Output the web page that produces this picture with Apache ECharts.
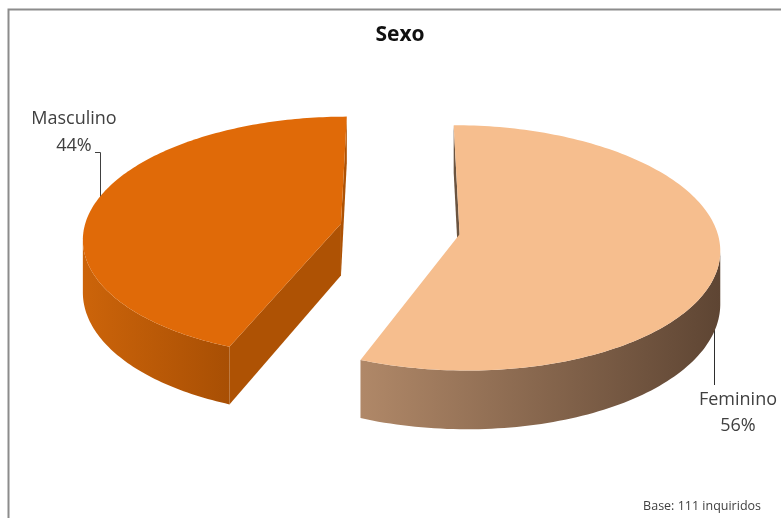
<!DOCTYPE html>
<html>
<head>
<meta charset="utf-8">
<script src="https://cdn.jsdelivr.net/npm/echarts@6/dist/echarts.min.js"></script>
<style>
  html, body { margin: 0; padding: 0; background: #fff; }
  #main { width: 781px; height: 518px; }
</style>
</head>
<body>
<div id="main"></div>
<script>
// Survey breakdown by sex
const categories = ['Feminino', 'Masculino'];
const shares = [56, 44];
const baseCount = 111;

// Slice styling (top face, cut faces, outer wall gradient left->right)
const topColors = ['#F6BE8E', '#E06A08'];
const cutColors = ['#6B5440', '#AE5204'];
const wallColors = [['#B08868', '#5E4533'], ['#CC640A', '#A84F04']];

// Perspective disc: centre, radii, perspective strength, thickness, explode distance
const view = { cx: 400, cy: 229, rx: 257, ry: 120, persp: 0.11, depth: 52, explode: 0.235 };

function proj(u, w, t) {
  const s = 1 / (1 + view.persp * w);
  return [view.cx + view.rx * u * s, view.cy - view.ry * w * s + view.depth * t * s];
}

function signedArea(pts) {
  let a = 0;
  for (let i = 0; i < pts.length; i++) {
    const p = pts[i], q = pts[(i + 1) % pts.length];
    a += p[0] * q[1] - q[0] * p[1];
  }
  return a;
}

const total = shares.reduce((a, b) => a + b, 0);

function renderSlice(params, api) {
  const i = params.dataIndex;
  let before = 0;
  for (let k = 0; k < i; k++) before += shares[k];
  const a0 = before / total * Math.PI * 2;
  const a1 = (before + api.value(0)) / total * Math.PI * 2;
  const mid = (a0 + a1) / 2;
  const ou = view.explode * Math.sin(mid);
  const ow = view.explode * Math.cos(mid);
  const rim = (a, t) => proj(ou + Math.sin(a), ow + Math.cos(a), t);
  const apex = t => proj(ou, ow, t);

  const children = [];
  // radial cut faces (only those turned toward the viewer)
  const f0 = [apex(0), rim(a0, 0), rim(a0, 1), apex(1)];
  const f1 = [rim(a1, 0), apex(0), apex(1), rim(a1, 1)];
  [f0, f1].forEach(f => {
    if (signedArea(f) < 0) {
      children.push({ type: 'polygon', shape: { points: f }, style: { fill: cutColors[i] } });
    }
  });

  // outer curved wall: visible where the rim runs right-to-left
  const N = 160;
  const angs = [];
  for (let k = 0; k <= N; k++) angs.push(a0 + (a1 - a0) * k / N);
  let run = [];
  const flush = () => {
    if (run.length > 1) {
      const topPts = run.map(a => rim(a, 0));
      const botPts = run.map(a => rim(a, 1)).reverse();
      children.push({
        type: 'polygon',
        shape: { points: topPts.concat(botPts) },
        style: { fill: new echarts.graphic.LinearGradient(0, 0, 1, 0, [
          { offset: 0, color: wallColors[i][0] },
          { offset: 1, color: wallColors[i][1] }
        ]) }
      });
    }
    run = [];
  };
  for (let k = 0; k < N; k++) {
    const p = rim(angs[k], 0), q = rim(angs[k + 1], 0);
    if (q[0] < p[0]) {
      if (!run.length) run.push(angs[k]);
      run.push(angs[k + 1]);
    } else {
      flush();
    }
  }
  flush();

  // top face
  const top = [apex(0)].concat(angs.map(a => rim(a, 0)));
  children.push({ type: 'polygon', shape: { points: top }, style: { fill: topColors[i] } });

  return { type: 'group', children };
}

const chart = echarts.init(document.getElementById('main'), null, { renderer: 'canvas' });

const labelFont = '"Open Sans", Lato, sans-serif';
const textColor = '#404040';

chart.setOption({
  backgroundColor: '#ffffff',
  animation: false,
  series: [{
    type: 'custom',
    coordinateSystem: 'none',
    renderItem: renderSlice,
    data: shares.map((v, k) => ({ name: categories[k], value: [v] }))
  }],
  graphic: [
    { type: 'rect', shape: { x: 8.5, y: 9.5, width: 800, height: 600 },
      style: { fill: 'none', stroke: '#8c8c8c', lineWidth: 2 }, silent: true },
    { type: 'text', x: 400, y: 35,
      style: { text: 'Sexo', fill: '#111111', font: 'bold 21px ' + labelFont,
               align: 'center', verticalAlign: 'middle' } },
    { type: 'text', x: 74, y: 132,
      style: { text: categories[1] + '\n' + shares[1] + '%', fill: textColor, font: '18px ' + labelFont,
               align: 'center', verticalAlign: 'middle', lineHeight: 27 } },
    { type: 'polyline', shape: { points: [[95, 152.5], [100.5, 152.5], [100.5, 202]] },
      style: { stroke: '#404040', lineWidth: 1, fill: 'none' } },
    { type: 'text', x: 738, y: 413,
      style: { text: categories[0] + '\n' + shares[0] + '%', fill: textColor, font: '18px ' + labelFont,
               align: 'center', verticalAlign: 'middle', lineHeight: 26 } },
    { type: 'polyline', shape: { points: [[714.5, 300], [714.5, 385]] },
      style: { stroke: '#2e2e2e', lineWidth: 1, fill: 'none' } },
    { type: 'text', x: 761, y: 506,
      style: { text: 'Base: ' + baseCount + ' inquiridos', fill: textColor, font: '12.5px ' + labelFont,
               align: 'right', verticalAlign: 'middle' } }
  ]
});
</script>
</body>
</html>
